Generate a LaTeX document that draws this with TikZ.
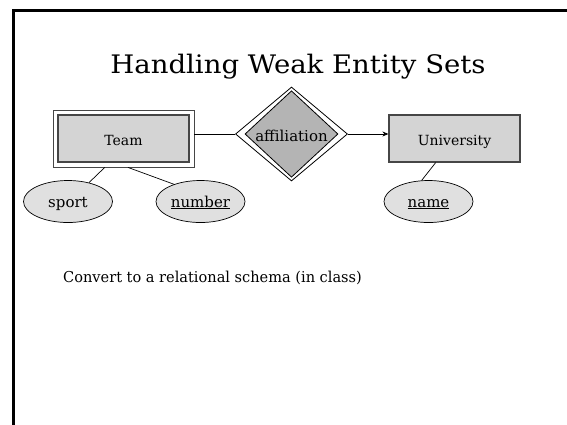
\documentclass[tikz,border=0pt]{standalone}
\usepackage{fontspec}
\setmainfont{DejaVu Serif}
\newfontfamily\bodyfont[FakeStretch=0.97]{DejaVu Serif}
\newfontfamily\titlefont[FakeStretch=1.08]{DejaVu Serif}
\usetikzlibrary{shapes.geometric,arrows.meta}

\definecolor{boxgray}{RGB}{212,212,212}
\definecolor{attrgray}{RGB}{224,224,224}
\definecolor{relgray}{RGB}{180,180,180}
\definecolor{edgegray}{RGB}{70,70,70}

\tikzset{
  entity/.style={rectangle, draw=edgegray, line width=1.2pt, fill=boxgray,
    inner sep=0pt, text height=14pt, text depth=0pt, font=\fontsize{14}{16}\selectfont},
  outerbox/.style={rectangle, draw=edgegray, line width=0.9pt, fill=white, inner sep=0pt},
  attr/.style={ellipse, draw=black, line width=0.7pt, fill=attrgray,
    minimum width=89pt, minimum height=42pt, inner sep=0pt,
    text height=12pt, text depth=1pt, font=\fontsize{15}{17}\selectfont},
  outerrel/.style={diamond, draw=black, line width=0.8pt, fill=white,
    minimum width=112pt, minimum height=94pt, inner sep=0pt},
  innerrel/.style={diamond, draw=black, line width=0.8pt, fill=relgray,
    minimum width=93pt, minimum height=82pt, inner sep=0pt,
    text height=14pt, text depth=0pt, font=\fontsize{15}{17}\selectfont},
  link/.style={draw=black, line width=0.7pt},
  frameline/.style={draw=black, line width=2.3pt}
}

\begin{document}
\begin{tikzpicture}[x=1pt, y=-1pt]
  \useasboundingbox (0,0) rectangle (567,424);

  % slide frame (left and top edges)
  \coordinate (fbl) at (13.5,430);
  \coordinate (fcorner) at (13.5,10.5);
  \coordinate (ftr) at (575,10.5);
  \begin{scope}
    \clip (0,0) rectangle (567,424);
    \draw[frameline] (fbl) -- (fcorner) -- (ftr);
  \end{scope}

  % title
  \node[anchor=base, font=\titlefont\fontsize{25.5}{29}\selectfont] (title) at (298,73)
    {Handling Weak Entity Sets};

  % weak entity set Team (double rectangle)
  \node[outerbox, minimum width=141pt, minimum height=57pt] (teamo) at (123.5,138.5) {};
  \node[entity, minimum width=131pt, minimum height=47pt] (team) at (123.5,138.5) {Team};

  % supporting relationship (double diamond)
  \node[outerrel] (diao) at (291.5,134) {};
  \node[innerrel] (dia) at (291.5,134) {affiliation};

  % entity set University
  \node[entity, minimum width=131pt, minimum height=47pt] (univ) at (454.5,138.5) {University};

  % attributes
  \node[attr] (sport) at (68,201.5) {sport};
  \node[attr] (number) at (200.5,201.5) {\underline{number}};
  \node[attr] (name) at (428.5,201.5) {\underline{name}};

  % connectors
  \draw[link] (teamo.east |- diao.west) -- (diao.west);
  \draw[link, -{Stealth[length=6pt,width=5pt]}] (diao.east) -- (diao.east -| univ.west);
  \draw[link] (teamo.237) -- (sport.42);
  \draw[link] (teamo.279) -- (number.147);
  \draw[link] (univ.232) -- (name.108);

  % remark
  \node[anchor=base west, inner sep=0pt, font=\bodyfont\fontsize{15}{17}\selectfont] (note) at (63,282)
    {Convert to a relational schema (in class)};
\end{tikzpicture}
\end{document}
